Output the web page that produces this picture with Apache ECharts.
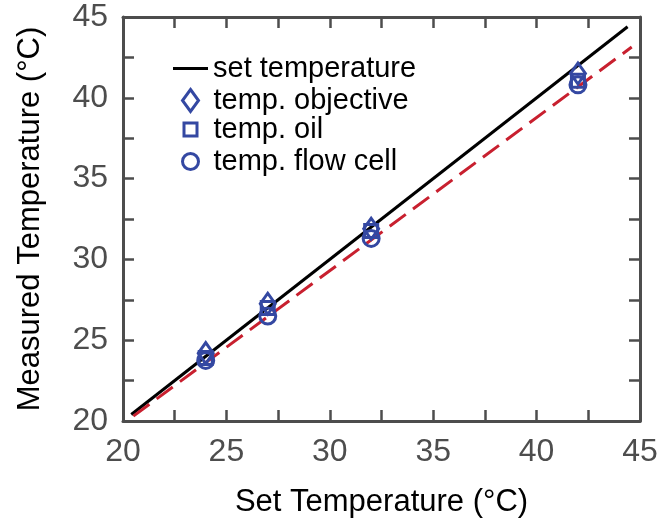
<!DOCTYPE html>
<html>
<head>
<meta charset="utf-8">
<script src="https://cdn.jsdelivr.net/npm/echarts@6/dist/echarts.min.js"></script>
<style>
  html, body { margin: 0; padding: 0; background: #fff; }
  #chart { width: 658px; height: 518px; }
</style>
</head>
<body>
<div id="chart"></div>
<script>
  // data
  const setLine = [[20.4, 20.4], [44.4, 44.4]];
  const fitLine = [[20.5, 20.3], [44.6, 43.14]];
  const setTemps = [24, 27, 32, 42];
  const tempObjective = [24.2, 27.25, 31.9, 41.5];
  const tempOil = [23.9, 27.0, 31.75, 41.05];
  const tempFlowCell = [23.75, 26.5, 31.3, 40.8];

  const font = '"Liberation Sans", Arial, sans-serif';
  const blue = '#3448a2';
  const axisGray = '#4d4d4d';

  const pairs = vals => setTemps.map((x, i) => [x, vals[i]]);

  const axisBase = {
    type: 'value',
    min: 20,
    max: 45,
    interval: 5,
    axisLine: { show: true, onZero: false, lineStyle: { color: axisGray, width: 3 } },
    axisTick: { show: true, inside: true, length: 11, lineStyle: { color: axisGray, width: 2.5 } },
    minorTick: { show: true, splitNumber: 2, length: 11, lineStyle: { color: axisGray, width: 2.5 } },
    splitLine: { show: false },
    axisLabel: { show: false }
  };

  const chart = echarts.init(document.getElementById('chart'));
  const diamondPath = 'path://M8,0L16,11L8,22L0,11Z';
  const squarePath = 'path://M0,0L13,0L13,13L0,13Z';

  const legendBase = {
    orient: 'vertical',
    padding: 0,
    itemGap: 0,
    selectedMode: false,
    textStyle: { fontFamily: font, fontSize: 29, color: '#000' },
    itemStyle: { borderWidth: 3, opacity: 1 }
  };

  const markerStyle = { color: 'rgba(0,0,0,0)', borderColor: blue, borderWidth: 3, opacity: 1 };

  const option = {
    animation: false,
    grid: { left: 123, right: 18, top: 17, bottom: 97, outerBoundsMode: 'none', containLabel: false },
    legend: [
      Object.assign({}, legendBase, {
        left: 173, top: 54, itemWidth: 35, itemHeight: 3,
        itemStyle: { borderWidth: 0 },
        data: [{ name: 'set temperature', icon: 'rect' }]
      }),
      Object.assign({}, legendBase, {
        left: 181, top: 86, itemWidth: 36, itemHeight: 22,
        data: [{ name: 'temp. objective', icon: diamondPath }]
      }),
      Object.assign({}, legendBase, {
        left: 182.5, top: 115, itemWidth: 36, itemHeight: 13,
        data: [{ name: 'temp. oil', icon: squarePath }]
      }),
      Object.assign({}, legendBase, {
        left: 181, top: 147, itemWidth: 36, itemHeight: 16,
        data: [{ name: 'temp. flow cell', icon: 'circle' }]
      })
    ],
    xAxis: [
      Object.assign({}, axisBase, {
        position: 'bottom',
        name: 'Set Temperature (°C)',
        nameLocation: 'middle',
        nameGap: 66,
        nameTextStyle: { fontFamily: font, fontSize: 31, color: '#000' },
        axisLabel: { show: true, margin: 15, fontFamily: font, fontSize: 32, color: axisGray }
      }),
      Object.assign({}, axisBase, { position: 'top' })
    ],
    yAxis: [
      Object.assign({}, axisBase, {
        position: 'left',
        name: 'Measured Temperature (°C)',
        nameLocation: 'middle',
        nameGap: 77,
        nameTextStyle: { fontFamily: font, fontSize: 31, color: '#000' },
        axisLabel: { show: true, margin: 15, fontFamily: font, fontSize: 32, color: axisGray }
      }),
      Object.assign({}, axisBase, { position: 'right' })
    ],
    series: [
      {
        name: 'set temperature',
        type: 'line',
        data: setLine,
        symbol: 'none',
        z: 2,
        lineStyle: { color: '#000', width: 3 },
        itemStyle: { color: '#000' }
      },
      {
        name: 'fit',
        type: 'line',
        data: fitLine,
        symbol: 'none',
        z: 2,
        lineStyle: { color: '#c8202f', width: 3, type: [20, 9] }
      },
      {
        name: 'temp. objective',
        type: 'scatter',
        data: pairs(tempObjective),
        symbol: 'diamond',
        symbolSize: [15, 21],
        z: 3,
        itemStyle: markerStyle
      },
      {
        name: 'temp. oil',
        type: 'scatter',
        data: pairs(tempOil),
        symbol: 'rect',
        symbolSize: 13,
        z: 3,
        itemStyle: markerStyle
      },
      {
        name: 'temp. flow cell',
        type: 'scatter',
        data: pairs(tempFlowCell),
        symbol: 'circle',
        symbolSize: 16,
        z: 3,
        itemStyle: markerStyle
      }
    ]
  };

  chart.setOption(option);
</script>
</body>
</html>
